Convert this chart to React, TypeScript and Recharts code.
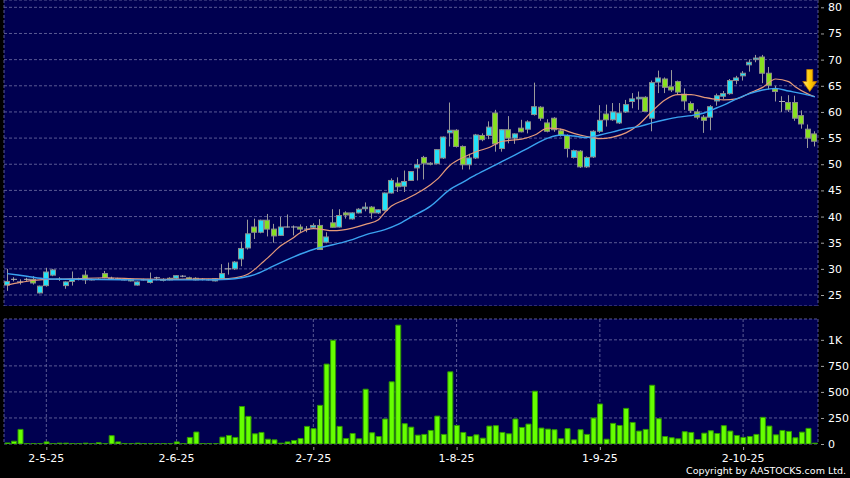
import React from 'react';
import { ComposedChart, Bar, Line, XAxis, YAxis, CartesianGrid, ReferenceDot } from 'recharts';

const opens = [
  26.9, 28.0, 27.5, 28.0, 28.0, 25.4, 26.8, 28.8, 28.0, 26.8,
  27.6, 28.0, 28.8, 27.9, 28.0, 29.1, 28.2, 28.1, 27.9, 28.0,
  26.9, 27.9, 27.4, 28.3, 28.0, 28.2, 28.2, 28.6, 28.3, 28.2,
  28.0, 27.9, 27.7, 28.1, 30.0, 30.0, 31.9, 34.0, 38.0, 37.0,
  39.3, 37.6, 36.4, 38.0, 38.0, 38.0, 37.6, 37.95, 38.3, 35.1,
  38.8, 38.0, 40.7, 39.55, 40.7, 41.5, 41.8, 40.7, 41.2, 44.5,
  46.4, 45.8, 46.9, 49.3, 51.3, 50.0, 50.1, 51.2, 56.0, 56.5,
  53.4, 49.9, 51.2, 55.5, 55.5, 59.8, 53.0, 56.6, 55.0, 56.9,
  56.7, 59.5, 60.9, 57.9, 58.8, 56.4, 55.5, 51.3, 52.5, 49.5,
  51.4, 56.3, 59.6, 58.5, 57.9, 60.0, 62.0, 62.5, 62.8, 58.8,
  65.7, 66.3, 64.8, 65.8, 63.4, 61.6, 60.0, 59.0, 59.0, 62.1,
  63.0, 63.5, 66.0, 66.9, 69.0, 70.0, 70.5, 67.4, 64.4, 62.0,
  61.8, 61.8, 59.3, 56.7, 55.8,
];
const highs = [
  30.0, 28.4, 28.0, 28.3, 28.6, 26.8, 30.2, 30.0, 28.4, 27.6,
  29.5, 28.3, 29.7, 28.1, 28.2, 29.6, 28.5, 28.3, 28.1, 28.2,
  27.6, 28.1, 29.3, 28.5, 28.2, 28.4, 28.8, 28.8, 28.5, 28.4,
  28.2, 28.1, 28.2, 30.9, 31.2, 31.5, 35.2, 39.4, 39.6, 39.4,
  40.5, 38.6, 39.9, 40.4, 38.3, 38.5, 38.2, 38.7, 39.5, 37.0,
  41.4, 41.4, 41.0, 40.8, 41.6, 42.7, 42.0, 41.4, 44.6, 47.3,
  47.5, 48.8, 48.7, 51.0, 51.6, 50.4, 52.9, 55.3, 61.8, 56.7,
  53.6, 52.0, 55.8, 55.9, 58.2, 60.4, 56.7, 59.2, 55.9, 58.5,
  58.4, 65.6, 61.1, 58.6, 59.0, 56.8, 55.7, 52.8, 52.7, 51.5,
  56.5, 61.3, 61.4, 61.7, 61.7, 62.3, 63.6, 63.9, 63.0, 66.0,
  67.9, 66.6, 68.0, 66.0, 64.5, 62.0, 60.5, 59.4, 61.3, 63.5,
  64.0, 66.3, 66.9, 67.8, 70.0, 70.9, 70.9, 68.6, 65.0, 63.0,
  63.2, 63.1, 60.3, 57.6, 56.3,
];
const lows = [
  25.8, 27.6, 27.0, 27.7, 27.0, 25.3, 26.6, 28.6, 27.7, 26.2,
  26.8, 27.8, 27.1, 27.8, 27.9, 28.2, 27.9, 27.9, 27.8, 27.6,
  26.8, 27.8, 27.2, 27.8, 27.6, 27.8, 28.1, 28.4, 27.9, 27.8,
  27.8, 27.8, 27.6, 28.0, 28.9, 29.8, 30.5, 33.7, 35.7, 36.8,
  36.2, 35.0, 36.3, 37.9, 36.4, 37.0, 37.0, 37.8, 33.6, 34.9,
  37.9, 37.9, 39.6, 39.4, 40.6, 41.0, 39.6, 40.5, 41.0, 44.4,
  44.7, 44.7, 46.8, 46.9, 47.1, 49.8, 50.0, 51.0, 53.4, 53.2,
  49.0, 49.0, 51.0, 54.4, 54.8, 52.4, 52.4, 54.0, 53.9, 56.1,
  55.9, 59.3, 58.3, 56.1, 56.2, 55.3, 51.3, 51.1, 49.3, 49.3,
  51.2, 56.0, 57.2, 58.3, 57.7, 59.8, 60.7, 60.4, 60.0, 56.3,
  63.6, 63.6, 63.8, 63.3, 60.4, 59.8, 58.6, 56.0, 56.5, 61.2,
  62.5, 63.3, 65.3, 66.0, 67.7, 69.5, 65.5, 64.3, 62.0, 60.0,
  60.0, 58.3, 56.8, 53.1, 53.4,
];
const closes = [
  27.6, 28.0, 27.5, 28.0, 27.3, 26.7, 29.4, 29.8, 28.0, 27.5,
  28.0, 28.0, 27.9, 27.9, 28.0, 28.3, 28.2, 28.1, 27.9, 27.7,
  27.5, 27.9, 28.0, 28.3, 27.8, 27.9, 28.7, 28.6, 28.0, 27.9,
  28.0, 27.9, 28.1, 29.1, 30.0, 31.3, 33.9, 36.7, 37.0, 39.3,
  37.6, 36.3, 38.0, 38.0, 38.0, 37.6, 37.6, 38.3, 33.7, 36.1,
  37.95, 40.2, 40.3, 40.7, 41.4, 41.8, 40.7, 41.3, 44.5, 46.9,
  45.7, 46.7, 48.6, 49.9, 50.2, 50.2, 52.8, 55.2, 56.5, 53.4,
  49.9, 51.2, 55.6, 54.7, 57.1, 53.9, 56.6, 55.0, 55.8, 56.2,
  58.1, 61.0, 58.8, 56.3, 56.6, 55.5, 53.0, 52.6, 49.5, 51.3,
  56.3, 58.4, 58.5, 60.0, 59.8, 61.4, 62.5, 62.8, 60.1, 65.6,
  66.5, 64.7, 64.2, 63.8, 62.1, 60.3, 59.0, 58.4, 61.0, 63.1,
  63.5, 66.0, 66.5, 67.4, 69.5, 70.3, 67.4, 65.1, 63.9, 62.0,
  60.4, 58.8, 57.7, 55.0, 54.4,
];
const volumes = [
  10, 27, 140, 3, 3, 3, 20, 3, 8, 8,
  3, 3, 8, 3, 12, 3, 80, 20, 5, 3,
  8, 3, 3, 3, 3, 3, 20, 3, 63, 115,
  3, 3, 3, 66, 82, 63, 360, 265, 98, 111,
  46, 40, 8, 20, 34, 53, 169, 147, 371, 767,
  996, 169, 53, 101, 50, 526, 108, 72, 240, 597,
  1141, 195, 162, 85, 92, 130, 268, 92, 693, 178,
  111, 72, 88, 56, 172, 176, 111, 98, 240, 159,
  191, 507, 153, 143, 137, 50, 147, 40, 137, 92,
  249, 384, 46, 198, 178, 342, 207, 124, 140, 564,
  243, 72, 60, 50, 118, 111, 43, 104, 127, 101,
  176, 124, 82, 63, 72, 92, 256, 172, 88, 130,
  121, 60, 114, 150, 8,
];

const maShortIdx = [0, 2, 4, 6, 10, 15, 20, 25, 30, 33, 35, 37, 38, 39, 40, 42, 44, 45, 47, 48, 50, 53, 55, 57, 58, 59, 61, 63, 65, 66, 68, 70, 72, 74, 76, 79, 81, 83, 85, 87, 89, 91, 93, 95, 97, 99, 101, 103, 105, 107, 109, 110, 112, 114, 116, 118, 120, 121, 123, 124];
const maShortVal = [26.9, 27.4, 27.8, 28.0, 28.1, 28.3, 28.1, 28.0, 28.1, 28.1, 28.3, 29.0, 29.9, 31.0, 32.1, 34.4, 36.0, 36.9, 37.7, 37.6, 37.3, 37.8, 38.5, 39.4, 40.8, 42.0, 43.2, 44.5, 46.1, 47.1, 49.8, 51.3, 52.4, 53.2, 54.4, 54.8, 55.6, 56.9, 56.7, 55.9, 55.3, 54.9, 55.2, 56.0, 57.6, 60.1, 62.3, 63.3, 63.3, 62.8, 62.4, 62.3, 62.5, 63.6, 64.7, 66.3, 65.8, 64.8, 63.4, 62.9];
const maLongIdx = [0, 3, 6, 10, 20, 30, 34, 36, 38, 40, 42, 44, 47, 50, 53, 55, 58, 60, 62, 65, 68, 70, 72, 75, 78, 80, 83, 85, 87, 89, 91, 93, 95, 97, 99, 101, 103, 105, 107, 109, 110, 112, 114, 116, 118, 120, 122, 124];
const maLongVal = [29.1, 28.6, 28.1, 28.0, 27.9, 27.9, 28.0, 28.3, 28.9, 30.0, 31.2, 32.3, 33.7, 34.6, 35.6, 36.5, 37.5, 38.5, 39.9, 42.0, 45.2, 46.6, 48.0, 49.9, 51.8, 53.1, 55.0, 55.6, 55.4, 55.1, 55.6, 56.2, 56.8, 57.2, 57.9, 58.5, 59.0, 59.3, 59.8, 60.8, 61.3, 62.5, 63.5, 64.2, 64.5, 64.0, 63.5, 62.9];

const dateTickIdx = [6, 26, 47, 69, 91, 113];
const dateTickLabels = ['2-5-25', '2-6-25', '2-7-25', '1-8-25', '1-9-25', '2-10-25'];
const priceTicks = [25, 30, 35, 40, 45, 50, 55, 60, 65, 70, 75, 80];
const volTicks = [0, 250, 500, 750, 1000];
const arrowIdx = 124;
const arrowPrice = 63.9;

const rows = opens.map((o, i) => ({
  i,
  o,
  h: highs[i],
  l: lows[i],
  c: closes[i],
  range: [lows[i], highs[i]],
  vol: volumes[i],
  maS: null as number | null,
  maL: null as number | null,
}));
maShortIdx.forEach((k, j) => { rows[k].maS = maShortVal[j]; });
maLongIdx.forEach((k, j) => { rows[k].maL = maLongVal[j]; });

const NAVY = '#000050';
const GRID = '#5a5a94';
const CYAN = '#22e2f8';
const GREEN = '#86e020';
const FONT = 'DejaVu Sans, Verdana, sans-serif';

const Candle = (props: any) => {
  const { x, y, width, height, payload } = props;
  if (!payload || height == null) return null;
  const { o, h, l, c } = payload;
  const span = h - l || 1;
  const py = (v: number) => y + ((h - v) / span) * height;
  const cx = Math.round(x + width / 2 - 0.5) + 0.5;
  const bx = Math.round(x) + 0.5;
  const bw = Math.round(width) - 1;
  const top = py(Math.max(o, c));
  const bot = py(Math.min(o, c));
  const flat = Math.abs(o - c) < 1e-9;
  return (
    <g>
      <line x1={cx} x2={cx} y1={y} y2={y + height} stroke="#9a9a9a" strokeWidth={1} />
      {flat ? (
        <line x1={bx - 0.5} x2={bx + bw + 0.5} y1={top} y2={top} stroke="#b4b4b4" strokeWidth={1} />
      ) : (
        <rect x={bx} y={top} width={bw} height={Math.max(1, bot - top)} fill={c > o ? CYAN : GREEN} stroke="#8c8c8c" strokeWidth={1} />
      )}
    </g>
  );
};

const Arrow = (props: any) => {
  const { cx, cy } = props;
  if (cx == null || cy == null) return null;
  const tx = cx - 5;
  const pts = [
    [tx - 3, cy - 22], [tx + 3, cy - 22], [tx + 3, cy - 10], [tx + 7, cy - 10],
    [tx, cy], [tx - 7, cy - 10], [tx - 3, cy - 10],
  ].map((p) => p.join(',')).join(' ');
  return (
    <g>
      <defs>
        <linearGradient id="arrowGrad" x1="0" y1="0" x2="1" y2="0">
          <stop offset="0" stopColor="#ffe680" />
          <stop offset="0.5" stopColor="#ffcc00" />
          <stop offset="1" stopColor="#e89a00" />
        </linearGradient>
      </defs>
      <polygon points={pts} fill="url(#arrowGrad)" stroke="#c07800" strokeWidth={0.8} />
    </g>
  );
};

const RightTick = (fmt: (v: number) => string) => (p: any) => (
  <g>
    <line x1={p.x + 3} x2={p.x + 6} y1={p.y + 0.5} y2={p.y + 0.5} stroke="#a0a0a0" />
    <text x={p.x + 10} y={p.y} dy="0.36em" fill="#ffffff" fontSize={11} fontFamily={FONT}>
      {fmt(p.payload.value)}
    </text>
  </g>
);

const DateTick = (p: any) => {
  const k = dateTickIdx.indexOf(p.payload.value);
  return (
    <g>
      <line x1={p.x + 0.5} x2={p.x + 0.5} y1={p.y + 3} y2={p.y + 6} stroke="#a0a0a0" />
      <text x={p.x} y={p.y + 18} textAnchor="middle" fill="#ffffff" fontSize={11} fontFamily={FONT}>
        {k >= 0 ? dateTickLabels[k] : ''}
      </text>
    </g>
  );
};

export default function App() {
  return (
    <div style={{ position: 'absolute', left: 0, top: 0, width: 850, height: 478, background: '#000', overflow: 'hidden' }}>
      <div style={{ position: 'absolute', left: 0, top: 0 }}>
        <ComposedChart width={850} height={306} data={rows} margin={{ top: 0, right: 0, bottom: 0, left: 4 }}>
          <CartesianGrid fill={NAVY} stroke={GRID} strokeDasharray="3 2" />
          <XAxis
            dataKey="i"
            height={0}
            ticks={dateTickIdx}
            interval={0}
            axisLine={false}
            tickLine={false}
            tick={false}
          />
          <YAxis
            orientation="right"
            width={32}
            domain={[22.9, 81.4]}
            allowDataOverflow
            ticks={priceTicks}
            interval={0}
            axisLine={false}
            tickLine={false}
            tickSize={0}
            tickMargin={0}
            tick={RightTick((v) => String(v))}
          />
          <Bar dataKey="range" barSize={6} shape={Candle} isAnimationActive={false} />
          <Line dataKey="maS" type="monotone" stroke="#e59a7a" strokeWidth={1.2} dot={false} connectNulls isAnimationActive={false} />
          <Line dataKey="maL" type="monotone" stroke="#3aa2f0" strokeWidth={1.4} dot={false} connectNulls isAnimationActive={false} />
          <ReferenceDot x={arrowIdx} y={arrowPrice} r={0} shape={Arrow} />
        </ComposedChart>
      </div>
      <div style={{ position: 'absolute', left: 0, top: 310 }}>
        <ComposedChart width={850} height={168} data={rows} margin={{ top: 9, right: 0, bottom: 0, left: 4 }}>
          <CartesianGrid fill={NAVY} stroke={GRID} strokeDasharray="3 2" />
          <XAxis
            dataKey="i"
            height={34}
            ticks={dateTickIdx}
            interval={0}
            axisLine={false}
            tickLine={false}
            tickSize={0}
            tickMargin={0}
            tick={DateTick}
          />
          <YAxis
            orientation="right"
            width={32}
            domain={[0, 1200]}
            allowDataOverflow
            ticks={volTicks}
            interval={0}
            axisLine={false}
            tickLine={false}
            tickSize={0}
            tickMargin={0}
            tick={RightTick((v) => (v >= 1000 ? `${v / 1000}K` : String(v)))}
          />
          <Bar dataKey="vol" barSize={5} fill="#66ff00" stroke="#2f9a00" strokeWidth={1} isAnimationActive={false} />
        </ComposedChart>
      </div>
      <svg width={850} height={478} style={{ position: 'absolute', left: 0, top: 0, pointerEvents: 'none' }}>
        <text x={846} y={474} textAnchor="end" fill="#ffffff" fontSize={9.5} fontFamily={FONT}>
          Copyright by AASTOCKS.com Ltd.
        </text>
      </svg>
    </div>
  );
}
